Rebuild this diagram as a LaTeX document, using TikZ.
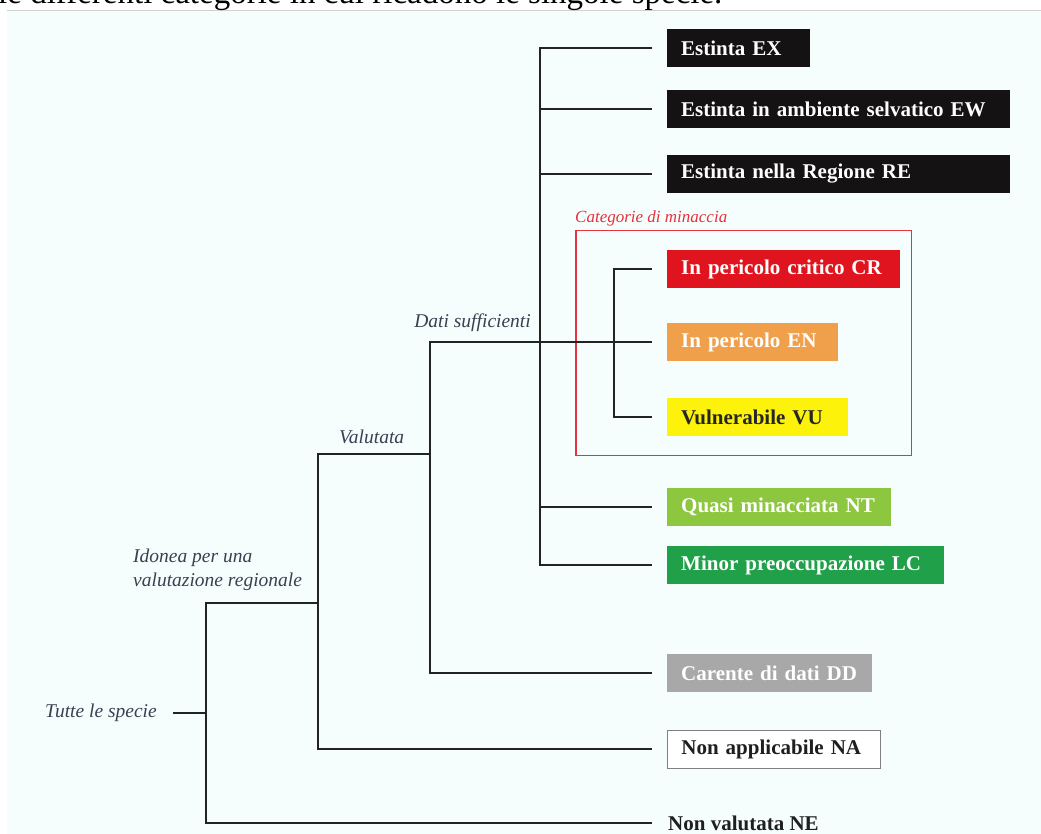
\documentclass[tikz,border=0pt]{standalone}
\usepackage{fontspec}
\setmainfont{Liberation Serif}
\usepackage{tikz}
\usetikzlibrary{positioning}
\usepackage{xcolor}
\definecolor{bgc}{RGB}{245,253,253}
\definecolor{linec}{RGB}{35,35,35}
\definecolor{lblc}{RGB}{58,64,80}
\definecolor{exc}{RGB}{20,18,18}
\definecolor{crc}{RGB}{224,20,30}
\definecolor{enc}{RGB}{240,160,75}
\definecolor{vuc}{RGB}{252,242,10}
\definecolor{ntc}{RGB}{141,198,63}
\definecolor{lcc}{RGB}{32,160,72}
\definecolor{ddc}{RGB}{168,168,168}
\definecolor{thr}{RGB}{228,50,62}

\begin{document}
\begin{tikzpicture}[x=1pt, y=-1pt,
  cat/.style={rectangle, anchor=west, minimum height=38pt,
              inner xsep=14pt, inner ysep=0pt, align=left,
              text=white, font=\fontsize{21}{24}\selectfont\bfseries},
  lbl/.style={inner sep=0pt, text=lblc,
              font=\fontsize{19.5}{24}\selectfont\itshape},
  br/.style={line width=1.7pt, draw=linec},
  brb/.style={br, shorten >=15pt},
]
  \clip (0,0) rectangle (1041,834);
  \fill[bgc] (7,11) rectangle (1041,834);
  \draw[black!18, line width=1pt] (7,10.5) -- (1041,10.5);
  \node[anchor=base west, inner sep=0pt, font=\fontsize{33}{36}\selectfont] (cap) at (-2,4)
    {le differenti categorie in cui ricadono le singole specie.};

  \node[cat, fill=exc, text width=115pt] (ex) at (667, 48)  {Estinta EX};
  \node[cat, fill=exc, text width=315pt] (ew) at (667,109)  {Estinta in ambiente selvatico EW};
  \node[cat, fill=exc, text width=315pt] (re) at (667,174)  {Estinta nella Regione RE};
  \node[cat, fill=crc, text width=205pt] (cr) at (667,269)  {In pericolo critico CR};
  \node[cat, fill=enc, text width=143pt] (en) at (667,342)  {In pericolo EN};
  \node[cat, fill=vuc, text width=153pt, text=black!85] (vu) at (667,417) {Vulnerabile VU};
  \node[cat, fill=ntc, text width=196pt] (nt) at (667,507)  {Quasi minacciata NT};
  \node[cat, fill=lcc, text width=249pt] (lc) at (667,565)  {Minor preoccupazione LC};
  \node[cat, fill=ddc, text width=177pt] (dd) at (667,673)  {Carente di dati DD};
  \node[cat, fill=white, draw=black!50, line width=0.8pt, text=black!88,
        text width=185pt] (na) at (667,749) {Non applicabile NA};
  \node[cat, inner xsep=0pt, text=black!88] (ne) at (668,823) {Non valutata NE};

  \draw[thr, line width=1.2pt] (576,230.5) rectangle (911.5,455.5);
  \node[anchor=base west, inner sep=0pt, text=thr,
        font=\fontsize{17}{20}\selectfont\itshape] (minac) at (575,223) {Categorie di minaccia};

  \node[lbl, anchor=east] (tutte) at (157,713) {Tutte le specie};
  \node[lbl, anchor=south west, align=left] (ido) at (133,591)
    {Idonea per una\\valutazione regionale};
  \node[lbl, anchor=base west] (val) at (339,443) {Valutata};
  \node[lbl, anchor=base east] (dsu) at (531,327) {Dati sufficienti};

  \coordinate (j0) at (206,713);
  \coordinate (j1) at (318,603);
  \coordinate (j2) at (430,454);
  \coordinate (j3) at (540,342);
  \coordinate (j4) at (614,342);

  \draw[br, shorten <=16pt] (tutte.east) -- (j0);
  \draw[br] (j0) |- (j1);
  \draw[brb, shorten >=16pt] (j0) |- (ne.west);
  \draw[br] (j1) |- (j2);
  \draw[brb] (j1) |- (na.west);
  \draw[brb] (j2) |- (en.west);
  \draw[brb] (j2) |- (dd.west);
  \draw[brb] (j3) |- (ex.west);
  \draw[brb] (j3) |- (ew.west);
  \draw[brb] (j3) |- (re.west);
  \draw[brb] (j3) |- (nt.west);
  \draw[brb] (j3) |- (lc.west);
  \draw[brb] (j4) |- (cr.west);
  \draw[brb] (j4) |- (vu.west);
\end{tikzpicture}
\end{document}
